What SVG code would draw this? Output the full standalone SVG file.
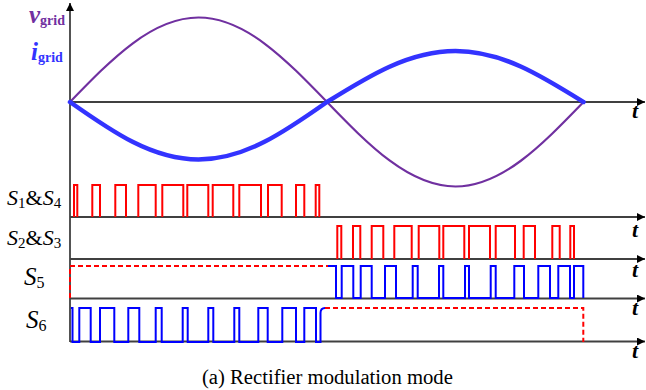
<svg xmlns="http://www.w3.org/2000/svg" width="646" height="390" viewBox="0 0 646 390">
<style>
.axis{stroke:#404040;stroke-width:1.8;fill:none}
.red{stroke:#FF0000;stroke-width:2;fill:none;stroke-linejoin:miter}
.blue{stroke:#0000FF;stroke-width:2;fill:none;stroke-linejoin:miter}
.dash{stroke:#FF0000;stroke-width:2;fill:none;stroke-dasharray:5 3}
</style>
<defs>
<marker id="arr" viewBox="0 0 10 10" refX="10" refY="5" markerWidth="10" markerHeight="8" markerUnits="userSpaceOnUse" orient="auto">
<path d="M0,0 L10,5 L0,10 z" fill="#000"/>
</marker>
</defs>
<rect width="646" height="390" fill="#fff"/>

<g id="axes">
<line class="axis" x1="70" y1="342" x2="70" y2="3" marker-end="url(#arr)"/>
<line class="axis" x1="70" y1="102" x2="645" y2="102" marker-end="url(#arr)"/>
<line class="axis" x1="70" y1="217" x2="645" y2="217" marker-end="url(#arr)"/>
<line class="axis" x1="70" y1="259" x2="645" y2="259" marker-end="url(#arr)"/>
<line class="axis" x1="70" y1="298.5" x2="645" y2="298.5" marker-end="url(#arr)"/>
<line class="axis" x1="70" y1="341.5" x2="645" y2="341.5" marker-end="url(#arr)"/>
<g font-family="Liberation Serif, Times New Roman, serif" font-style="italic" font-weight="bold" font-size="22" fill="#000">
<text x="632" y="118">t</text>
<text x="632" y="237">t</text>
<text x="632" y="277">t</text>
<text x="632" y="315">t</text>
<text x="632" y="358">t</text>
</g>
</g>

<g id="vgrid">
<path d="M70,102 C111.9,58.7 152,17.5 198.5,17.5 C245,17.5 285.1,58.7 327,102 C368.9,145.3 409,186.5 455.5,186.5 C502,186.5 541.6,145.3 583.5,102" fill="none" stroke="#7030A0" stroke-width="2.2"/>
<text font-family="Liberation Serif, Times New Roman, serif" x="29" y="23" fill="#7030A0"><tspan font-style="italic" font-weight="bold" font-size="25">v</tspan><tspan font-size="14" font-weight="bold" dy="2">grid</tspan></text>
</g>

<g id="igrid">
<path d="M70,102 C111.9,131.5 152,159.5 198.5,159.5 C245,159.5 285.1,131.5 327,102 C368.9,75.9 409,51 455.5,51 C502,51 541.6,75.9 583.5,102" fill="none" stroke="#3333FF" stroke-width="4.5" stroke-linecap="round"/>
<text font-family="Liberation Serif, Times New Roman, serif" x="31" y="60" fill="#3333FF"><tspan font-style="italic" font-weight="bold" font-size="25">i</tspan><tspan font-size="14" font-weight="bold" dy="2">grid</tspan></text>
</g>

<g id="s1s4">
<text font-family="Liberation Serif, Times New Roman, serif" x="7" y="205" font-size="22" fill="#000"><tspan font-style="italic">S</tspan><tspan font-size="15" dy="3">1</tspan><tspan dy="-3">&amp;</tspan><tspan font-style="italic">S</tspan><tspan font-size="15" dy="3">4</tspan></text>
<path class="red" d="M74,217 V185 H77.3 V217 M92.3,217 V185 H100 V217 M115.3,217 V185 H126 V217 M138.3,217 V185 H155.7 V217 M162.3,217 V185 H183.3 V217 M187.3,217 V185 H208.3 V217 M212.7,217 V185 H233.3 V217 M239.3,217 V185 H261 V217 M268,217 V185 H281.7 V217 M296,217 V185 H304.3 V217 M315.7,217 V185 H319.3 V217"/>
</g>

<g id="s2s3">
<text font-family="Liberation Serif, Times New Roman, serif" x="7" y="245" font-size="22" fill="#000"><tspan font-style="italic">S</tspan><tspan font-size="15" dy="3">2</tspan><tspan dy="-3">&amp;</tspan><tspan font-style="italic">S</tspan><tspan font-size="15" dy="3">3</tspan></text>
<path class="red" d="M337.3,259 V226 H341.3 V259 M353,259 V226 H360.3 V259 M371.7,259 V226 H383.3 V259 M394.3,259 V226 H411.7 V259 M418.7,259 V226 H439.3 V259 M443.3,259 V226 H464.3 V259 M469,259 V226 H490 V259 M495.7,259 V226 H515 V259 M523.7,259 V226 H535 V259 M552.3,259 V226 H559.7 V259 M570.3,259 V226 H574 V259"/>
</g>

<g id="s5">
<text font-family="Liberation Serif, Times New Roman, serif" x="24" y="285" font-size="25" fill="#000"><tspan font-style="italic">S</tspan><tspan font-size="16" dy="3">5</tspan></text>
<path class="dash" d="M70,298 V266 H328"/>
<path class="blue" d="M328,266 H336 V298 H341.7 V266 H353.3 V298 H360.7 V266 H371.7 V298 H385 V266 H396 V298 H412.7 V266 H417.7 V298 H439 V266 H443.3 V298 H465 V266 H469 V298 H490.7 V266 H495.7 V298 H514.3 V266 H524 V298 H538.3 V266 H550 V298 H558.3 V266 H570 V298 H574 V266 H583.3 V298"/>
</g>

<g id="s6">
<text font-family="Liberation Serif, Times New Roman, serif" x="26" y="328" font-size="25" fill="#000"><tspan font-style="italic">S</tspan><tspan font-size="16" dy="3">6</tspan></text>
<path class="blue" d="M71,308 H72.5 V342 H79.3 V308 H90.7 V342 H100 V308 H114.3 V342 H128.3 V308 H139.3 V342 H155.7 V308 H161.7 V342 H182.7 V308 H187.7 V342 H208.3 V308 H213.3 V342 H234.3 V308 H239.3 V342 H258.3 V308 H267.7 V342 H282.3 V308 H296 V342 H304.3 V308 H316 V342 H320.5 V313 Q320.5,308 325,308"/>
<path class="dash" d="M325,308 H583.3 V342"/>
</g>

<text font-family="Liberation Serif, Times New Roman, serif" x="327.4" y="384" font-size="20" text-anchor="middle" fill="#000" textLength="251" lengthAdjust="spacingAndGlyphs">(a) Rectifier modulation mode</text>
</svg>
